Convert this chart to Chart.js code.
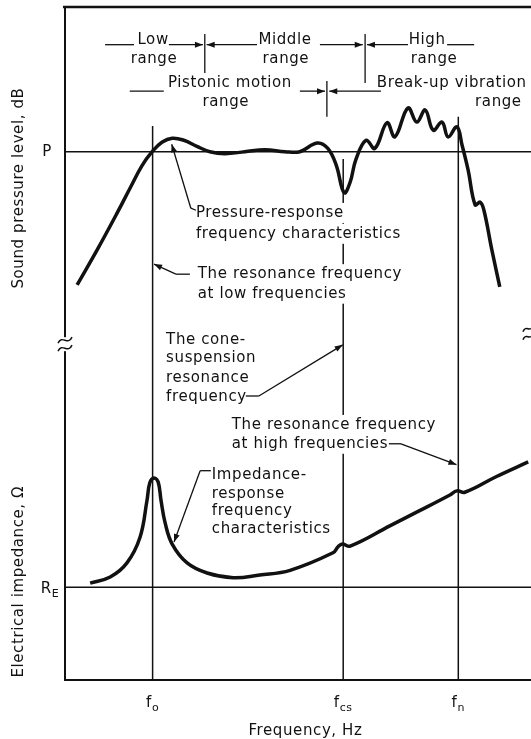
<!DOCTYPE html>
<html>
<head>
<meta charset="utf-8">
<script src="https://cdn.jsdelivr.net/npm/chart.js@4.4.1/dist/chart.umd.min.js"></script>
<style>
  html, body { margin: 0; padding: 0; background: #fff; }
  #chart { display: block; }
</style>
</head>
<body>
<canvas id="chart" width="531" height="739"></canvas>
<script>
// relative frequency (0-100) and relative level (0-100) along the two curves
const pressureFreq = [2.6, 6.9, 11.2, 14.2, 16.5, 18.7, 20.8, 23.0, 25.5, 28.3,
  31.1, 34.3, 38.6, 42.9, 47.2, 50.4, 54.1, 56.4, 58.2, 59.9,
  61.2, 62.4, 64.6, 66.5, 69.1, 70.8, 73.6, 75.5, 77.3, 79.0,
  80.9, 82.2, 84.1, 85.2, 86.5, 88.0, 89.1, 89.9, 91.6, 93.3];
const pressureLevel = [58.7, 63.9, 69.4, 73.4, 76.4, 78.5, 79.9, 80.5, 80.2, 79.3,
  78.5, 78.2, 78.5, 78.8, 78.5, 78.5, 79.8, 79.0, 76.5, 72.4,
  74.0, 77.3, 80.2, 79.0, 82.8, 80.7, 85.0, 82.9, 84.7, 81.7,
  82.9, 80.7, 82.2, 79.5, 75.8, 70.6, 71.0, 69.8, 63.9, 58.4];

const impedanceFreq = [5.4, 9.7, 13.3, 16.1, 17.6, 18.2, 19.1, 20.0, 20.6, 21.5,
  23.0, 26.2, 30.5, 36.1, 41.8, 48.3, 57.5, 58.6, 59.5, 61.2,
  69.7, 76.2, 82.6, 84.1, 85.8, 92.5, 99.4];
const impedanceLevel = [14.4, 15.3, 17.4, 21.2, 26.7, 29.3, 30.0, 29.4, 26.7, 23.3,
  20.2, 17.4, 15.9, 15.2, 15.6, 16.3, 18.9, 19.8, 20.2, 19.9,
  22.9, 25.2, 27.5, 28.1, 27.9, 30.2, 32.4];

// marked frequencies f0, fcs, fn and how high their lines reach
const markFreq = [18.8, 59.7, 84.4];
const markSub = ['o', 'cs', 'n'];
const markTop = [82.3, 77.4, 83.7];

// reference levels P and R_E
const levelP = 78.5;
const levelRE = 13.8;

const INK = '#111';
const FONT = '15px "DejaVu Sans", sans-serif';

const toPoints = (xs, ys) => xs.map((x, i) => ({ x: x, y: ys[i] }));

function arrowLine(ctx, x1, y1, x2, y2) {
  ctx.beginPath();
  ctx.moveTo(x1, y1);
  ctx.lineTo(x2, y2);
  ctx.stroke();
  const a = Math.atan2(y2 - y1, x2 - x1);
  const len = 8, w = 3;
  ctx.beginPath();
  ctx.moveTo(x2, y2);
  ctx.lineTo(x2 - len * Math.cos(a) + w * Math.sin(a), y2 - len * Math.sin(a) - w * Math.cos(a));
  ctx.lineTo(x2 - len * Math.cos(a) - w * Math.sin(a), y2 - len * Math.sin(a) + w * Math.cos(a));
  ctx.closePath();
  ctx.fill();
}

function line(ctx, x1, y1, x2, y2) {
  ctx.beginPath();
  ctx.moveTo(x1, y1);
  ctx.lineTo(x2, y2);
  ctx.stroke();
}

function text(ctx, str, x, y, align, clear) {
  ctx.font = FONT;
  ctx.textAlign = align || 'center';
  ctx.textBaseline = 'middle';
  if (clear) {
    const w = ctx.measureText(str).width;
    const x0 = align === 'left' ? x : x - w / 2;
    ctx.fillStyle = '#fff';
    ctx.fillRect(x0 - 3, y - 10, w + 6, 20);
    ctx.fillStyle = INK;
  }
  ctx.fillText(str, x, y);
}

function subLabel(ctx, main, sub, x, y) {
  ctx.textBaseline = 'alphabetic';
  ctx.font = FONT;
  const w1 = ctx.measureText(main).width;
  ctx.font = '11px "DejaVu Sans", sans-serif';
  const w2 = ctx.measureText(sub).width;
  const x0 = x - (w1 + w2) / 2;
  ctx.textAlign = 'left';
  ctx.font = FONT;
  ctx.fillText(main, x0, y);
  ctx.font = '11px "DejaVu Sans", sans-serif';
  ctx.fillText(sub, x0 + w1, y + 4);
}

const diagramPlugin = {
  id: 'diagram',
  beforeDatasetsDraw(chart) {
    const ctx = chart.ctx;
    const xs = chart.scales.x, ys = chart.scales.y;
    const X = v => xs.getPixelForValue(v);
    const Y = v => ys.getPixelForValue(v);
    const a = chart.chartArea;
    ctx.save();
    ctx.letterSpacing = '0.6px';
    ctx.strokeStyle = INK;
    ctx.fillStyle = INK;
    ctx.lineCap = 'butt';

    // frame
    ctx.lineWidth = 2.5;
    line(ctx, a.left - 2, a.top, a.right, a.top);
    ctx.lineWidth = 2;
    line(ctx, a.left, a.top, a.left, a.bottom + 1);
    line(ctx, a.left, a.bottom, a.right, a.bottom);

    // reference levels
    ctx.lineWidth = 1.5;
    line(ctx, a.left, Y(levelP), a.right, Y(levelP));
    line(ctx, a.left, Y(levelRE), a.right, Y(levelRE));

    // marked frequencies
    markFreq.forEach((f, i) => line(ctx, X(f), Y(markTop[i]), X(f), a.bottom));

    // frequency ranges, first row
    ctx.lineWidth = 1.3;
    const r1 = Y(94.4), r2 = Y(87.5);
    line(ctx, X(8.6), r1, X(14.8), r1);
    arrowLine(ctx, X(22.3), r1, X(29.6), r1);
    line(ctx, X(30.0), Y(96.0), X(30.0), Y(90.2));
    arrowLine(ctx, X(41.2), r1, X(30.4), r1);
    arrowLine(ctx, X(54.7), r1, X(63.9), r1);
    line(ctx, X(64.4), Y(96.0), X(64.4), Y(88.7));
    arrowLine(ctx, X(73.6), r1, X(64.8), r1);
    line(ctx, X(82.0), r1, X(87.8), r1);
    text(ctx, 'Low', X(18.9), Y(95.1));
    text(ctx, 'range', X(19.1), Y(92.3));
    text(ctx, 'Middle', X(47.2), Y(95.1));
    text(ctx, 'range', X(47.4), Y(92.3));
    text(ctx, 'High', X(77.7), Y(95.1));
    text(ctx, 'range', X(79.2), Y(92.3));

    // second row
    line(ctx, X(13.9), r2, X(21.2), r2);
    arrowLine(ctx, X(50.4), r2, X(55.8), r2);
    line(ctx, X(56.2), Y(89.0), X(56.2), Y(83.7));
    arrowLine(ctx, X(67.8), r2, X(56.7), r2);
    text(ctx, 'Pistonic motion', X(35.4), Y(88.7));
    text(ctx, 'range', X(34.5), Y(85.9));
    text(ctx, 'Break-up vibration', X(83.0), Y(88.7));
    text(ctx, 'range', X(93.0), Y(85.9));

    // callouts
    text(ctx, 'Pressure-response', X(28.1), Y(69.4), 'left', true);
    text(ctx, 'frequency characteristics', X(28.1), Y(66.3), 'left', true);
    arrowLine(ctx, X(27.0), Y(70.1), X(22.9), Y(79.6));
    line(ctx, X(27.0), Y(70.1), X(28.1), Y(69.8));

    text(ctx, 'The resonance frequency', X(28.5), Y(60.3), 'left', true);
    text(ctx, 'at low frequencies', X(28.5), Y(57.4), 'left', true);
    line(ctx, X(26.8), Y(60.3), X(23.8), Y(60.3));
    arrowLine(ctx, X(23.8), Y(60.3), X(19.1), Y(61.8));

    text(ctx, 'The cone-', X(21.7), Y(50.5), 'left');
    text(ctx, 'suspension', X(21.7), Y(47.8), 'left');
    text(ctx, 'resonance', X(21.7), Y(44.9), 'left');
    text(ctx, 'frequency', X(21.7), Y(42.1), 'left');
    line(ctx, X(38.8), Y(42.2), X(41.6), Y(42.2));
    arrowLine(ctx, X(41.6), Y(42.2), X(59.6), Y(49.8));

    text(ctx, 'The resonance frequency', X(35.8), Y(37.9), 'left', true);
    text(ctx, 'at high frequencies', X(35.8), Y(35.1), 'left', true);
    line(ctx, X(69.5), Y(35.1), X(72.1), Y(35.1));
    arrowLine(ctx, X(72.1), Y(35.1), X(84.0), Y(32.0));

    text(ctx, 'Impedance-', X(31.5), Y(30.5), 'left');
    text(ctx, 'response', X(31.5), Y(27.6), 'left');
    text(ctx, 'frequency', X(31.5), Y(25.1), 'left');
    text(ctx, 'characteristics', X(31.5), Y(22.4), 'left');
    line(ctx, X(31.3), Y(31.1), X(29.0), Y(31.1));
    arrowLine(ctx, X(29.0), Y(31.1), X(23.4), Y(20.5));

    // axis break marks
    const by = Y(49.9);
    ctx.fillStyle = '#fff';
    ctx.fillRect(a.left - 3, by - 7, 6, 14);
    ctx.fillStyle = INK;
    ctx.lineWidth = 1.5;
    [-4, 4].forEach(d => {
      ctx.beginPath();
      ctx.moveTo(a.left - 7, by + d + 3);
      ctx.bezierCurveTo(a.left - 3, by + d - 6, a.left + 3, by + d + 6, a.left + 7, by + d - 3);
      ctx.stroke();
    });
    const rx = a.right - 4, ry = Y(51.6);
    [-4, 4].forEach(d => {
      ctx.beginPath();
      ctx.moveTo(rx - 4, ry + d + 3);
      ctx.bezierCurveTo(rx - 1, ry + d - 5, rx + 3, ry + d + 5, rx + 6, ry + d - 3);
      ctx.stroke();
    });

    // axis labels
    text(ctx, 'P', 47, Y(levelP));
    subLabel(ctx, 'R', 'E', 50, Y(levelRE) + 6);
    markFreq.forEach((f, i) => subLabel(ctx, 'f', markSub[i], X(f), a.bottom + 27));
    text(ctx, 'Frequency, Hz', X(51.6), a.bottom + 51);

    ctx.save();
    ctx.translate(19, Y(73.1));
    ctx.rotate(-Math.PI / 2);
    text(ctx, 'Sound pressure level, dB', 0, 0);
    ctx.restore();
    ctx.save();
    ctx.translate(19, Y(14.6));
    ctx.rotate(-Math.PI / 2);
    text(ctx, 'Electrical impedance, \u03A9', 0, 0);
    ctx.restore();

    ctx.restore();
  }
};

new Chart(document.getElementById('chart'), {
  type: 'scatter',
  data: {
    datasets: [
      {
        label: 'Pressure-response frequency characteristics',
        data: toPoints(pressureFreq, pressureLevel),
        showLine: true,
        borderColor: INK,
        borderWidth: 3.5,
        pointRadius: 0,
        tension: 0.4
      },
      {
        label: 'Impedance-response frequency characteristics',
        data: toPoints(impedanceFreq, impedanceLevel),
        showLine: true,
        borderColor: INK,
        borderWidth: 3.5,
        pointRadius: 0,
        tension: 0.4
      }
    ]
  },
  options: {
    responsive: false,
    animation: false,
    devicePixelRatio: 1,
    layout: { padding: { left: 65, right: 0, top: 7, bottom: 59 } },
    scales: {
      x: { type: 'linear', min: 0, max: 100, display: false },
      y: { type: 'linear', min: 0, max: 100, display: false }
    },
    plugins: {
      legend: { display: false },
      tooltip: { enabled: false }
    }
  },
  plugins: [diagramPlugin]
});
</script>
</body>
</html>
